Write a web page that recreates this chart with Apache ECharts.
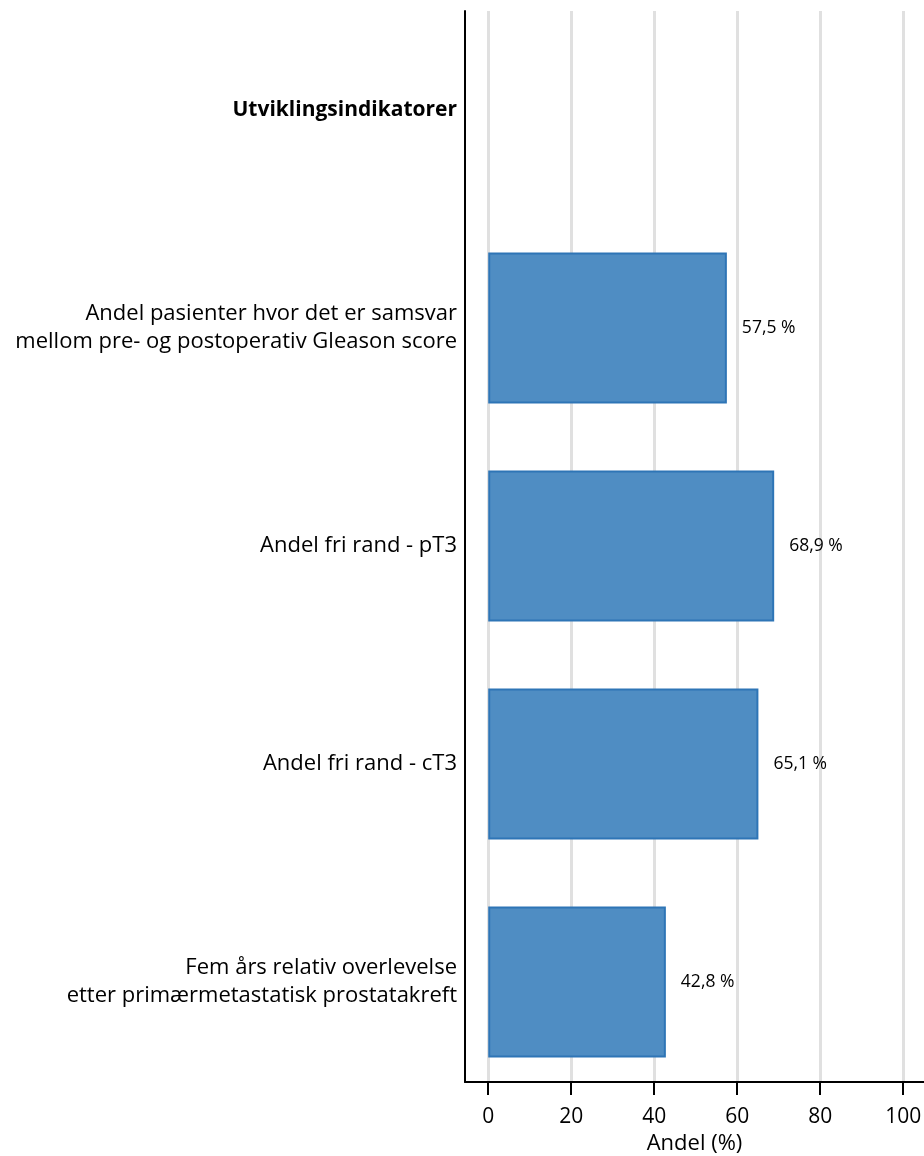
<!DOCTYPE html>
<html><head><meta charset="utf-8">
<script src="https://cdn.jsdelivr.net/npm/echarts@6/dist/echarts.min.js"></script>
<style>html,body{margin:0;padding:0;background:#fff}#c{width:924px;height:1156px}</style>
</head><body><div id="c"></div>
<script>
var categories = ['Utviklingsindikatorer',
  'Andel pasienter hvor det er samsvar\nmellom pre- og postoperativ Gleason score',
  'Andel fri rand - pT3',
  'Andel fri rand - cT3',
  'Fem års relativ overlevelse\netter primærmetastatisk prostatakreft'];
var values = [null, 57.5, 68.9, 65.1, 42.8];
var xTicks = [0, 20, 40, 60, 80, 100];
var FONT = 'Open Sans';
var chart = echarts.init(document.getElementById('c'));
chart.setOption({
  animation: false,
  textStyle: {fontFamily: FONT},
  grid: [
    {left: 465, right: 0, top: 1, bottom: 65, containLabel: false, outerBoundsMode: 'none'},
    {left: 465, right: 0, top: 11, bottom: 74, containLabel: false, outerBoundsMode: 'none'}
  ],
  xAxis: [
    {gridIndex: 0, type: 'value', min: -5.6, max: 105, show: false},
    {gridIndex: 1, type: 'value', min: -5.6, max: 105,
     axisLine: {show: true, onZero: false, lineStyle: {color: '#000', width: 2}},
     axisTick: {show: true, length: 13, lineStyle: {color: '#000', width: 2},
       customValues: xTicks},
     axisLabel: {customValues: xTicks, fontSize: 21, color: '#000', margin: 25, fontFamily: FONT},
     splitLine: {show: true, lineStyle: {color: '#e0e0e0', width: 3}},
     name: 'Andel (%)', nameLocation: 'middle', nameGap: 46,
     nameTextStyle: {fontSize: 22, color: '#000', fontFamily: FONT}}
  ],
  yAxis: [
    {gridIndex: 0, type: 'category', data: categories, inverse: true,
     axisLine: {show: false}, axisTick: {show: false},
     axisLabel: {margin: 8, fontSize: 22, color: '#000', lineHeight: 28, fontFamily: FONT,
       formatter: function(v){ return v === 'Utviklingsindikatorer' ? '{b|' + v + '}' : v; },
       rich: {b: {fontWeight: 'bold', fontSize: 21, color: '#000', fontFamily: FONT}}}},
    {gridIndex: 1, type: 'value', min: 0, max: 1,
     axisLine: {show: true, onZero: false, lineStyle: {color: '#000', width: 2}},
     axisTick: {show: false}, axisLabel: {show: false}, splitLine: {show: false}}
  ],
  series: [{
    type: 'bar', xAxisIndex: 0, yAxisIndex: 0, data: values,
    barWidth: 151,
    itemStyle: {color: '#4f8dc3', borderColor: '#2e75b6', borderWidth: 2},
    label: {show: true, position: 'right', distance: 15, color: '#000', fontSize: 17.5, fontFamily: FONT,
      formatter: function(p){ return p.value == null ? '' : p.value.toFixed(1).replace('.', ',') + ' %'; }}
  }]
});
</script></body></html>
